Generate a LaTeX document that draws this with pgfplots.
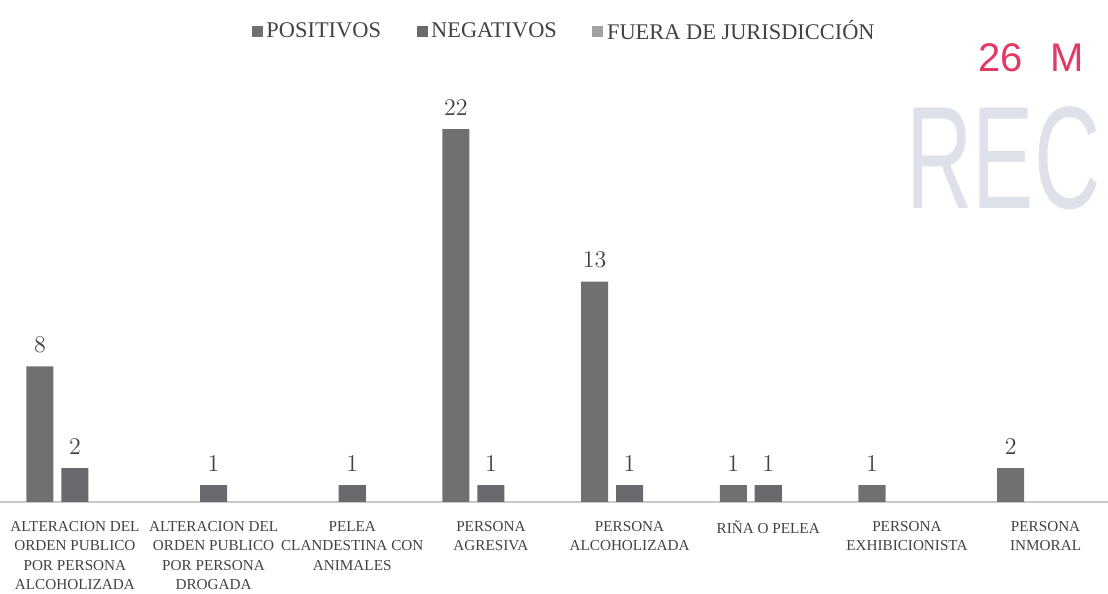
\documentclass[border=0pt]{standalone}
\usepackage{fontspec}
\setmainfont{Liberation Serif}
\newfontfamily\sansnote{Liberation Sans}
\usepackage{pgfplots}
\pgfplotsset{compat=1.18}
\definecolor{barpos}{RGB}{112,112,114}
\definecolor{barneg}{RGB}{106,106,110}
\definecolor{barfue}{RGB}{160,160,165}
\definecolor{textc}{RGB}{66,66,68}
\definecolor{linec}{RGB}{200,200,202}
\definecolor{notec}{RGB}{226,58,100}
\definecolor{stampc}{RGB}{222,224,234}
\begin{document}
\begin{tikzpicture}[x=1pt,y=1pt]
\useasboundingbox (0,0) rectangle (554,297);
% scan artefacts: handwritten date and stamp
\node[anchor=west, text=stampc, font=\sansnote\fontsize{73}{73}\selectfont, inner sep=0pt, xscale=0.63, transform shape] at (453,218) {REC};
\node[anchor=west, text=notec, font=\sansnote\fontsize{20}{20}\selectfont, inner sep=0pt] at (489,268) {26\hspace{14pt}M};
\begin{axis}[
  at={(0pt,46pt)}, anchor=south west,
  scale only axis, width=554pt, height=211.9pt,
  xmin=-0.54, xmax=7.45, ymin=0, ymax=25,
  axis y line=none, axis x line*=bottom,
  x axis line style={draw=linec, line width=1pt, -},
  xtick={0,...,7}, major tick length=0pt,
  xticklabels={
    {ALTERACION DEL\\ORDEN PUBLICO\\POR PERSONA\\ALCOHOLIZADA},
    {ALTERACION DEL\\ORDEN PUBLICO\\POR PERSONA\\DROGADA},
    {PELEA\\CLANDESTINA CON\\ANIMALES},
    {PERSONA\\AGRESIVA},
    {PERSONA\\ALCOHOLIZADA},
    {RIÑA O PELEA},
    {PERSONA\\EXHIBICIONISTA},
    {PERSONA\\INMORAL}},
  xticklabel style={align=center, font=\fontsize{7.6}{9.8}\selectfont, text=textc, anchor=north, yshift=-6pt},
  ybar, bar width=0.195,
  nodes near coords,
  nodes near coords style={font=\fontsize{12.5}{14}\selectfont, text=textc, yshift=3.3pt},
  legend image code/.code={\fill[#1] (0pt,-2.75pt) rectangle (5.5pt,2.75pt);},
  legend columns=3,
  legend style={at={(0.51,1.11)}, anchor=center, draw=none, fill=none,
    font=\fontsize{11.2}{13}\selectfont, text=textc,
    /tikz/every even column/.append style={column sep=16pt},
    nodes={inner sep=1.8pt}},
]
\addplot[fill=barpos, draw=none, bar shift=-0.252]
  coordinates {(0,8) (3,22) (4,13) (5,1) (6,1) (7,2)};
\addlegendentry{POSITIVOS}
\addplot[fill=barneg, draw=none, bar shift=0]
  coordinates {(0,2) (1,1) (2,1) (3,1) (4,1) (5,1)};
\addlegendentry{NEGATIVOS}
\addlegendimage{fill=barfue, draw=none}
\addlegendentry{FUERA DE JURISDICCIÓN}
\end{axis}
\end{tikzpicture}
\end{document}
